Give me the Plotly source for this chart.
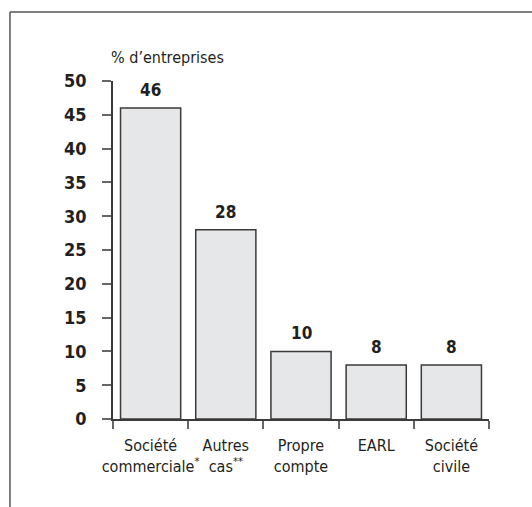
import plotly.graph_objects as go

categories = ["Société<br>commerciale<sup>*</sup>", "Autres<br>cas<sup>**</sup>",
              "Propre<br>compte", "EARL", "Société<br>civile"]
values = [46, 28, 10, 8, 8]
y_ticks = [0, 5, 10, 15, 20, 25, 30, 35, 40, 45, 50]

FONT = "DejaVu Sans Condensed, DejaVu Sans, sans-serif"
INK = "#231f20"

fig = go.Figure(go.Bar(
    x=categories, y=values,
    marker=dict(color="#e6e7e8", line=dict(color="#3a3a3a", width=1.5)),
    width=0.8,
))

# value labels above each bar
for c, v in zip(categories, values):
    fig.add_annotation(x=c, y=v, text=str(v), showarrow=False,
                       yanchor="bottom", yshift=6,
                       font=dict(family=FONT, size=17, color=INK, weight="bold"))

fig.add_annotation(x=-0.01, y=1.035, xref="paper", yref="paper", text="% d’entreprises",
                   showarrow=False, xanchor="left", yanchor="bottom",
                   font=dict(family=FONT, size=16, color=INK))

# frame lines (left and top)
fig.add_shape(type="line", xref="paper", yref="paper", x0=-0.274, x1=-0.274,
              y0=1.204, y1=-0.3, line=dict(color="#555555", width=1.5))
fig.add_shape(type="line", xref="paper", yref="paper", x0=-0.274, x1=1.2,
              y0=1.204, y1=1.204, line=dict(color="#555555", width=1.5))

fig.update_layout(
    width=532, height=507,
    margin=dict(l=113, r=43, t=81, b=88, autoexpand=False),
    paper_bgcolor="white", plot_bgcolor="white",
    showlegend=False,
    font=dict(family=FONT, color=INK),
    bargap=0.2,
)
fig.update_xaxes(
    type="category", tickson="boundaries", ticks="outside", ticklen=8,
    tickcolor="#666666", tickwidth=1.5, tickangle=0, automargin=False,
    showline=True, linecolor="#3a3a3a", linewidth=1.5,
    showgrid=False, ticklabelstandoff=11,
    tickfont=dict(family=FONT, size=16, color=INK),
    range=[-0.5, 4.5],
)
fig.update_yaxes(
    range=[0, 50], tickvals=y_ticks, ticks="outside", ticklen=9,
    tickcolor="#666666", tickwidth=1.5, automargin=False,
    showline=True, linecolor="#3a3a3a", linewidth=1.5,
    showgrid=False, zeroline=False, ticklabelstandoff=12,
    tickfont=dict(family=FONT, size=18, color=INK, weight="bold"),
)

fig.write_html("out.html")
